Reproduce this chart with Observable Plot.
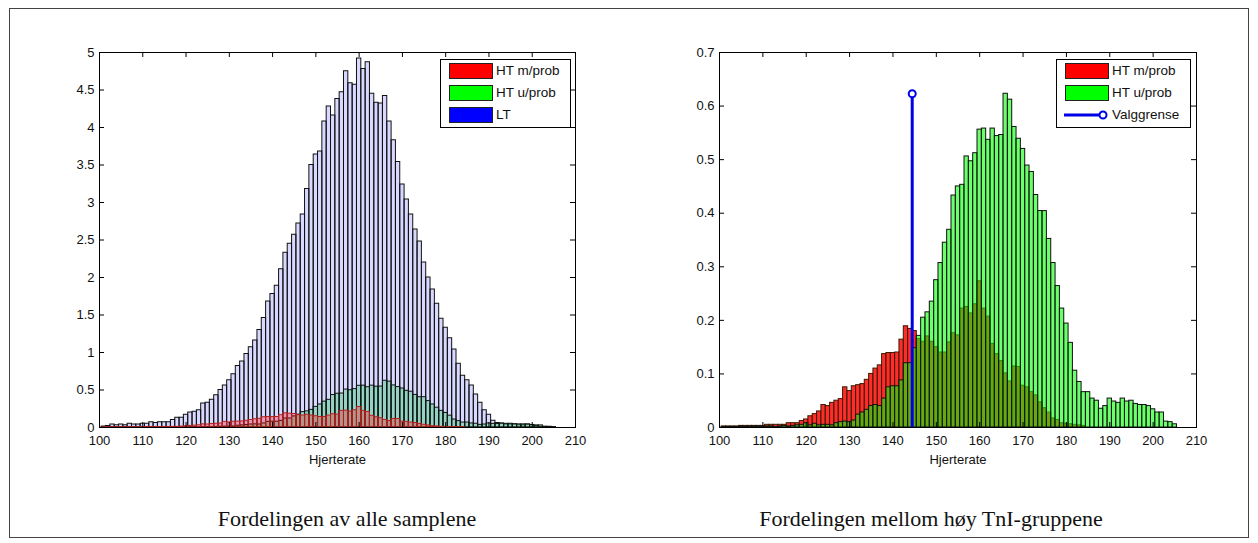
<!DOCTYPE html>
<html>
<head>
<meta charset="utf-8">
<script src="https://cdn.jsdelivr.net/npm/d3@7"></script>
<script src="https://cdn.jsdelivr.net/npm/@observablehq/plot@0.6"></script>
<style>
  html, body { margin: 0; padding: 0; background: #fff; }
  #root { position: relative; width: 1258px; height: 543px; overflow: hidden; background: #fff; }
  .outer { position: absolute; left: 9px; top: 8px; width: 1240px; height: 530px; border: 1px solid #444; box-sizing: border-box; }
  .panel { position: absolute; top: 0; }
  .legend { position: absolute; background: #fff; border: 1px solid #000; box-sizing: border-box; }
  .patch { position: absolute; border: 1px solid #222; box-sizing: border-box; }
  .ltext { position: absolute; font-family: "Liberation Sans", Arial, sans-serif; font-size: 13.5px; color: #111; line-height: 16px; white-space: nowrap; }
  .caption { position: absolute; font-family: "Liberation Serif", "Times New Roman", serif; font-size: 22px; color: #111; white-space: nowrap; transform: translateX(-50%); line-height: 1; }
</style>
</head>
<body>
<div id="root"><div class="outer"></div></div>
<script>
// ---------- data ----------
const xTicks = [100, 110, 120, 130, 140, 150, 160, 170, 180, 190, 200, 210];
const yTicksLeft = [0, 0.5, 1, 1.5, 2, 2.5, 3, 3.5, 4, 4.5, 5];
const yTicksRight = [0, 0.1, 0.2, 0.3, 0.4, 0.5, 0.6, 0.7];

// LT (all samples), bins starting at 100
const ltStart = 100;
const ltValues = [
  0.013, 0.02, 0.04, 0.03, 0.04, 0.03, 0.05, 0.04, 0.04, 0.05,
  0.05, 0.07, 0.06, 0.07, 0.07, 0.07, 0.10, 0.13, 0.13, 0.17,
  0.20, 0.21, 0.23, 0.32, 0.33, 0.37, 0.43, 0.50, 0.56, 0.63,
  0.71, 0.82, 0.88, 0.98, 1.07, 1.16, 1.30, 1.46, 1.68, 1.78,
  1.89, 2.11, 2.33, 2.45, 2.57, 2.72, 2.84, 3.18, 3.50, 3.64,
  3.68, 4.08, 4.28, 4.16, 4.38, 4.47, 4.75, 4.59, 4.57, 4.92,
  4.78, 4.87, 4.45, 4.33, 4.32, 4.42, 4.08, 3.83, 3.54, 3.24,
  3.04, 2.84, 2.64, 2.48, 2.20, 2.00, 1.84, 1.65, 1.45, 1.33,
  1.19, 1.04, 0.85, 0.69, 0.63, 0.56, 0.44, 0.33, 0.23, 0.17,
  0.09, 0.06, 0.05, 0.04, 0.04, 0.04, 0.03, 0.03, 0.04, 0.03,
  0.02, 0.01
];

// HT m/prob, bins starting at 100
const htmStart = 100;
const htmValues = [
  0.002, 0.002, 0.002, 0.002, 0.003, 0.003, 0.003, 0.003, 0.003, 0.003,
  0.005, 0.005, 0.005, 0.005, 0.005, 0.008, 0.008, 0.008, 0.012, 0.015,
  0.021, 0.025, 0.030, 0.042, 0.040, 0.046, 0.050, 0.053, 0.075, 0.068,
  0.077, 0.079, 0.081, 0.089, 0.100, 0.110, 0.116, 0.137, 0.139, 0.139,
  0.140, 0.164, 0.189, 0.184, 0.180, 0.165, 0.160, 0.170, 0.160, 0.150,
  0.140, 0.140, 0.159, 0.176, 0.172, 0.222, 0.225, 0.213, 0.230, 0.273,
  0.222, 0.207, 0.156, 0.137, 0.124, 0.101, 0.086, 0.114, 0.113, 0.078,
  0.075, 0.066, 0.060, 0.047, 0.036, 0.028, 0.017, 0.014, 0.008, 0.007,
  0.006, 0.005, 0.004, 0.003
];

// HT u/prob, bins starting at 100
const htuStart = 100;
const htuValues = [
  0.001, 0.001, 0.001, 0.001, 0.002, 0.001, 0.002, 0.002, 0.002, 0.001,
  0.002, 0.002, 0.001, 0.002, 0.003, 0.002, 0.003, 0.004, 0.005, 0.008,
  0.004, 0.007, 0.004, 0.005, 0.005, 0.004, 0.008, 0.010, 0.011, 0.010,
  0.013, 0.024, 0.028, 0.033, 0.040, 0.042, 0.040, 0.054, 0.075, 0.077,
  0.077, 0.088, 0.120, 0.120, 0.148, 0.171, 0.205, 0.215, 0.235, 0.275,
  0.307, 0.345, 0.369, 0.433, 0.450, 0.453, 0.506, 0.497, 0.512, 0.556,
  0.558, 0.537, 0.558, 0.544, 0.546, 0.623, 0.612, 0.561, 0.539, 0.520,
  0.489, 0.477, 0.434, 0.404, 0.404, 0.352, 0.307, 0.264, 0.222, 0.194,
  0.158, 0.106, 0.085, 0.066, 0.066, 0.054, 0.050, 0.035, 0.040, 0.054,
  0.0485, 0.046, 0.054, 0.0485, 0.050, 0.044, 0.042, 0.042, 0.040, 0.034,
  0.028, 0.028, 0.011, 0.010, 0.006
];

// decision threshold (Valggrense)
const valggrense = [{x: 144.44, y: 0.623}];

const legendLeft = ["HT m/prob", "HT u/prob", "LT"];
const legendRight = ["HT m/prob", "HT u/prob", "Valggrense"];
const captions = ["Fordelingen av alle samplene", "Fordelingen mellom høy TnI-gruppene"];
const xLabel = "Hjerterate";

// ---------- helpers ----------
const toRows = (start, values) => values.map((v, i) => ({x1: start + i + 0.5, x2: start + i + 1.5, v}));
const ltRows = toRows(ltStart, ltValues);
const htmRows = toRows(htmStart, htmValues);
const htuRows = toRows(htuStart, htuValues);
const fmt = d3.format("~g");

function frameAxes(W, H, m, yTicks) {
  const pw = W - m.l - m.r, ph = H - m.t - m.b;
  return [
    Plot.frame({stroke: "#000", strokeWidth: 1}),
    Plot.tickX(xTicks, {x: d => d, stroke: "#000", insetTop: ph - 5}),
    Plot.tickX(xTicks, {x: d => d, stroke: "#000", insetBottom: ph - 5}),
    Plot.tickY(yTicks, {y: d => d, stroke: "#000", insetRight: pw - 5}),
    Plot.tickY(yTicks, {y: d => d, stroke: "#000", insetLeft: pw - 5}),
    Plot.axisX({ticks: xTicks, tickSize: 0, tickPadding: 8, tickFormat: d => String(d), label: null}),
    Plot.axisY({ticks: yTicks, tickSize: 0, tickPadding: 5, tickFormat: fmt, label: null}),
    Plot.text([xLabel], {frameAnchor: "bottom", dy: 27, text: d => d, lineAnchor: "top", fontSize: 13, fill: "#111"})
  ];
}

const style = {fontFamily: "'Liberation Sans', Arial, sans-serif", fontSize: "13px", color: "#111", background: "transparent", overflow: "visible"};

// ---------- left panel ----------
const mL = {l: 99, r: 54, t: 52, b: 53};
const left = Plot.plot({
  width: 629, height: 480,
  marginLeft: mL.l, marginRight: mL.r, marginTop: mL.t, marginBottom: mL.b,
  x: {domain: [100, 210], label: null},
  y: {domain: [0, 5], label: null},
  style,
  marks: [
    Plot.rectY(ltRows, {x1: "x1", x2: "x2", y: "v", fill: "#0000ff", fillOpacity: 0.15, stroke: "#111", strokeWidth: 1}),
    Plot.rectY(htuRows, {x1: "x1", x2: "x2", y: "v", fill: "#00c040", fillOpacity: 0.3, stroke: "#111", strokeWidth: 1}),
    Plot.rectY(htmRows, {x1: "x1", x2: "x2", y: "v", fill: "#ff0000", fillOpacity: 0.3, stroke: "#b02020", strokeWidth: 1}),
    ...frameAxes(629, 480, mL, yTicksLeft)
  ]
});

// ---------- right panel ----------
const mR = {l: 90, r: 62, t: 52, b: 53};
const right = Plot.plot({
  width: 629, height: 480,
  marginLeft: mR.l, marginRight: mR.r, marginTop: mR.t, marginBottom: mR.b,
  x: {domain: [100, 210], label: null},
  y: {domain: [0, 0.7], label: null},
  style,
  marks: [
    Plot.rectY(htmRows, {x1: "x1", x2: "x2", y: "v", fill: "#ff1a1a", fillOpacity: 0.92, stroke: "#3a1a00", strokeWidth: 1}),
    Plot.rectY(htuRows, {x1: "x1", x2: "x2", y: "v", fill: "#00ff00", fillOpacity: 0.58, stroke: "#111", strokeWidth: 1}),
    Plot.ruleX(valggrense, {x: "x", y1: 0, y2: "y", stroke: "#0000e6", strokeWidth: 3}),
    Plot.dot(valggrense, {x: "x", y: "y", r: 3.5, stroke: "#0000e6", strokeWidth: 2, fill: "#fff"}),
    ...frameAxes(629, 480, mR, yTicksRight)
  ]
});

const root = document.getElementById("root");
function place(node, x) {
  const d = document.createElement("div");
  d.className = "panel"; d.style.left = x + "px";
  d.appendChild(node); root.appendChild(d);
}
place(left, 0);
place(right, 629);

// ---------- legends ----------
function legend(x, y, w, h, entries, kinds) {
  const box = document.createElement("div");
  box.className = "legend";
  Object.assign(box.style, {left: x + "px", top: y + "px", width: w + "px", height: h + "px"});
  root.appendChild(box);
  entries.forEach((label, i) => {
    const cy = y + 12 + i * 22;
    const k = kinds[i];
    if (k.type === "patch") {
      const p = document.createElement("div");
      p.className = "patch";
      Object.assign(p.style, {left: (x + 9) + "px", top: (cy - 8) + "px", width: "44px", height: "16px", background: k.color});
      root.appendChild(p);
    } else {
      const s = document.createElementNS("http://www.w3.org/2000/svg", "svg");
      s.setAttribute("width", 48); s.setAttribute("height", 16);
      Object.assign(s.style, {position: "absolute", left: (x + 6) + "px", top: (cy - 8) + "px"});
      s.innerHTML = `<line x1="2" y1="8" x2="38" y2="8" stroke="${k.color}" stroke-width="3"/><circle cx="41" cy="8" r="3.5" fill="#fff" stroke="${k.color}" stroke-width="2"/>`;
      root.appendChild(s);
    }
    const t = document.createElement("div");
    t.className = "ltext"; t.textContent = label;
    Object.assign(t.style, {left: (x + 56) + "px", top: (cy - 8) + "px"});
    root.appendChild(t);
  });
}
legend(440, 59, 131, 69, legendLeft, [{type: "patch", color: "#ff0000"}, {type: "patch", color: "#00ff00"}, {type: "patch", color: "#0000ff"}]);
legend(1056, 59, 135, 69, legendRight, [{type: "patch", color: "#ff0000"}, {type: "patch", color: "#00ff00"}, {type: "line", color: "#0000e6"}]);

// ---------- captions ----------
[[347, captions[0]], [931, captions[1]]].forEach(([cx, text]) => {
  const c = document.createElement("div");
  c.className = "caption"; c.textContent = text;
  Object.assign(c.style, {left: cx + "px", top: "508px"});
  root.appendChild(c);
});
</script>
</body>
</html>
